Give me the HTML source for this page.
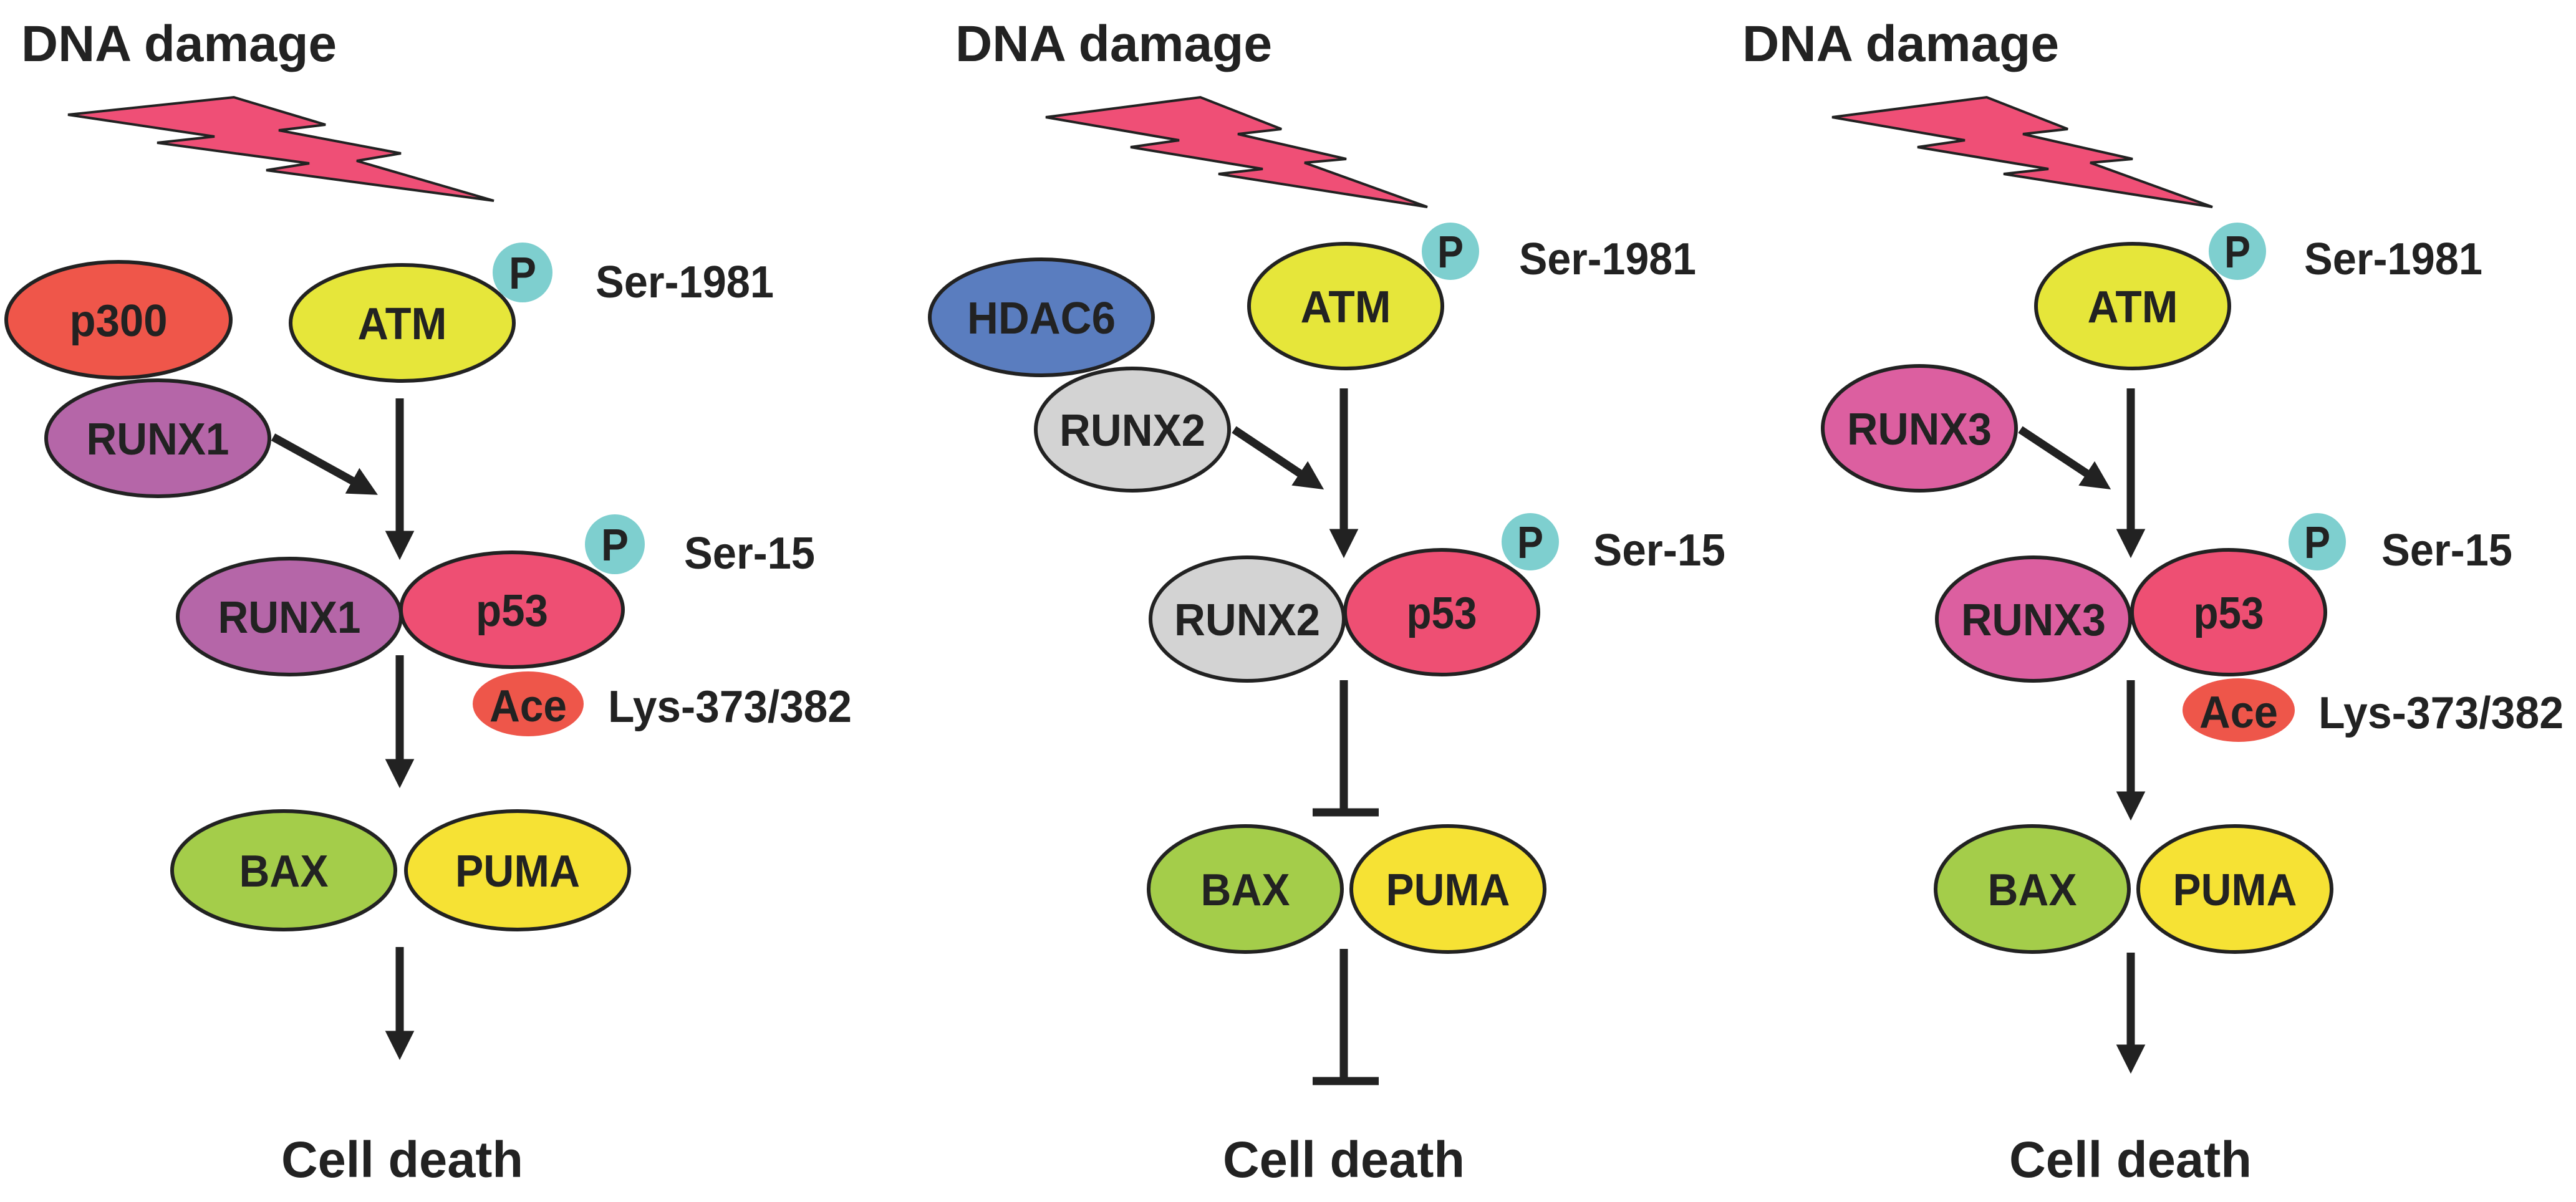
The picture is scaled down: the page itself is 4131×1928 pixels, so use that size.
<!DOCTYPE html>
<html><head><meta charset="utf-8"><style>html,body{margin:0;padding:0;background:#fff}svg{display:block}</style></head>
<body>
<svg width="4131" height="1928" viewBox="0 0 4131 1928" xmlns="http://www.w3.org/2000/svg" font-family="Liberation Sans, Arial, sans-serif" font-weight="bold" fill="#222">
<defs>
<marker id="ah" markerWidth="4" markerHeight="4" refX="2.2" refY="2" orient="auto" markerUnits="strokeWidth"><path d="M0,0.2 L3.6,2 L0,3.8 z" fill="#222"/></marker>
</defs>
<g stroke="#222" stroke-width="6">
<polygon fill="#ef4f76" stroke-width="4" points="109,184 375,156 522,200 447,209 643,246 572,258 792,322 427,273 496,262 252,229 344,219"/>
<polygon fill="#ef4f76" stroke-width="4" points="1677,188 1925,156 2055,207 1985,215 2159,255 2092,261 2289,332 1954,279 2025,271 1813,236 1891,225"/>
<polygon fill="#ef4f76" stroke-width="4" points="2938,188 3186,156 3316,207 3244,215 3420,255 3352,261 3548,332 3213,279 3285,271 3075,236 3151,225"/>

<ellipse cx="190" cy="513" rx="180" ry="93" fill="#ef564a"/>
<ellipse cx="253" cy="703" rx="179" ry="93" fill="#b566a8"/>
<ellipse cx="645" cy="518" rx="179" ry="93" fill="#e6e63a"/>
<circle cx="838" cy="437" r="48" fill="#7ecfcf" stroke="none"/>
<ellipse cx="464" cy="989" rx="179" ry="93" fill="#b566a8"/>
<ellipse cx="821" cy="978" rx="178" ry="92" fill="#ee4f73"/>
<circle cx="986" cy="873" r="48" fill="#7ecfcf" stroke="none"/>
<ellipse cx="847" cy="1129" rx="89" ry="52" fill="#ee564a" stroke="none"/>
<ellipse cx="455" cy="1396" rx="179" ry="95" fill="#a4cd4a"/>
<ellipse cx="830" cy="1396" rx="179" ry="95" fill="#f6e234"/>

<ellipse cx="1670" cy="509" rx="179" ry="93" fill="#5a7dbf"/>
<ellipse cx="1816" cy="689" rx="155" ry="98" fill="#d3d3d3"/>
<ellipse cx="2158" cy="491" rx="155" ry="100" fill="#e6e63a"/>
<circle cx="2326" cy="403" r="46" fill="#7ecfcf" stroke="none"/>
<ellipse cx="2000" cy="993" rx="155" ry="99" fill="#d3d3d3"/>
<ellipse cx="2312" cy="982" rx="155" ry="100" fill="#ee4f73"/>
<circle cx="2454" cy="869" r="46" fill="#7ecfcf" stroke="none"/>
<ellipse cx="1997" cy="1426" rx="155" ry="101" fill="#a4cd4a"/>
<ellipse cx="2322" cy="1426" rx="155" ry="101" fill="#f6e234"/>

<ellipse cx="3078" cy="687" rx="155" ry="100" fill="#dc5fa0"/>
<ellipse cx="3420" cy="491" rx="155" ry="100" fill="#e6e63a"/>
<circle cx="3588" cy="403" r="46" fill="#7ecfcf" stroke="none"/>
<ellipse cx="3261" cy="993" rx="155" ry="99" fill="#dc5fa0"/>
<ellipse cx="3574" cy="982" rx="155" ry="100" fill="#ee4f73"/>
<circle cx="3716" cy="869" r="46" fill="#7ecfcf" stroke="none"/>
<ellipse cx="3590" cy="1139" rx="90" ry="51" fill="#ee564a" stroke="none"/>
<ellipse cx="3259" cy="1426" rx="155" ry="101" fill="#a4cd4a"/>
<ellipse cx="3584" cy="1426" rx="155" ry="101" fill="#f6e234"/>
</g>

<g stroke="#222" stroke-width="13" fill="none">
<line x1="438" y1="701" x2="590" y2="785" marker-end="url(#ah)"/>
<line x1="641" y1="639" x2="641" y2="880" marker-end="url(#ah)"/>
<line x1="641" y1="1051" x2="641" y2="1246" marker-end="url(#ah)"/>
<line x1="641" y1="1519" x2="641" y2="1682" marker-end="url(#ah)"/>

<line x1="1979" y1="689" x2="2108" y2="775" marker-end="url(#ah)"/>
<line x1="2155" y1="623" x2="2155" y2="877" marker-end="url(#ah)"/>
<line x1="2155" y1="1091" x2="2155" y2="1303"/>
<line x1="2105" y1="1303" x2="2211" y2="1303"/>
<line x1="2155" y1="1522" x2="2155" y2="1734"/>
<line x1="2105" y1="1734" x2="2211" y2="1734"/>

<line x1="3240" y1="689" x2="3370" y2="775" marker-end="url(#ah)"/>
<line x1="3417" y1="623" x2="3417" y2="877" marker-end="url(#ah)"/>
<line x1="3417" y1="1091" x2="3417" y2="1298" marker-end="url(#ah)"/>
<line x1="3417" y1="1528" x2="3417" y2="1704" marker-end="url(#ah)"/>
</g>

<g font-size="82">
<text x="34" y="98" textLength="506" lengthAdjust="spacingAndGlyphs">DNA damage</text>
<text x="1532" y="98" textLength="508" lengthAdjust="spacingAndGlyphs">DNA damage</text>
<text x="2794" y="98" textLength="508" lengthAdjust="spacingAndGlyphs">DNA damage</text>
<text x="451" y="1888" textLength="388" lengthAdjust="spacingAndGlyphs">Cell death</text>
<text x="1961" y="1888" textLength="388" lengthAdjust="spacingAndGlyphs">Cell death</text>
<text x="3222" y="1888" textLength="389" lengthAdjust="spacingAndGlyphs">Cell death</text>
</g>
<g font-size="72" text-anchor="middle">
<text x="190" y="539" textLength="157" lengthAdjust="spacingAndGlyphs">p300</text>
<text x="253" y="729" textLength="229" lengthAdjust="spacingAndGlyphs">RUNX1</text>
<text x="645" y="544" textLength="143" lengthAdjust="spacingAndGlyphs">ATM</text>
<text x="838" y="463" textLength="44" lengthAdjust="spacingAndGlyphs">P</text>
<text x="464" y="1015" textLength="229" lengthAdjust="spacingAndGlyphs">RUNX1</text>
<text x="821" y="1004" textLength="116" lengthAdjust="spacingAndGlyphs">p53</text>
<text x="986" y="899" textLength="44" lengthAdjust="spacingAndGlyphs">P</text>
<text x="847" y="1157" textLength="124" lengthAdjust="spacingAndGlyphs">Ace</text>
<text x="455" y="1422" textLength="143" lengthAdjust="spacingAndGlyphs">BAX</text>
<text x="830" y="1422" textLength="200" lengthAdjust="spacingAndGlyphs">PUMA</text>

<text x="1670" y="535" textLength="238" lengthAdjust="spacingAndGlyphs">HDAC6</text>
<text x="1816" y="715" textLength="234" lengthAdjust="spacingAndGlyphs">RUNX2</text>
<text x="2158" y="517" textLength="145" lengthAdjust="spacingAndGlyphs">ATM</text>
<text x="2326" y="429" textLength="42" lengthAdjust="spacingAndGlyphs">P</text>
<text x="2000" y="1019" textLength="234" lengthAdjust="spacingAndGlyphs">RUNX2</text>
<text x="2312" y="1008" textLength="113" lengthAdjust="spacingAndGlyphs">p53</text>
<text x="2454" y="895" textLength="42" lengthAdjust="spacingAndGlyphs">P</text>
<text x="1997" y="1452" textLength="143" lengthAdjust="spacingAndGlyphs">BAX</text>
<text x="2322" y="1452" textLength="199" lengthAdjust="spacingAndGlyphs">PUMA</text>

<text x="3078" y="713" textLength="232" lengthAdjust="spacingAndGlyphs">RUNX3</text>
<text x="3420" y="517" textLength="145" lengthAdjust="spacingAndGlyphs">ATM</text>
<text x="3588" y="429" textLength="42" lengthAdjust="spacingAndGlyphs">P</text>
<text x="3261" y="1019" textLength="232" lengthAdjust="spacingAndGlyphs">RUNX3</text>
<text x="3574" y="1008" textLength="113" lengthAdjust="spacingAndGlyphs">p53</text>
<text x="3716" y="895" textLength="42" lengthAdjust="spacingAndGlyphs">P</text>
<text x="3590" y="1167" textLength="126" lengthAdjust="spacingAndGlyphs">Ace</text>
<text x="3259" y="1452" textLength="143" lengthAdjust="spacingAndGlyphs">BAX</text>
<text x="3584" y="1452" textLength="199" lengthAdjust="spacingAndGlyphs">PUMA</text>
</g>
<g font-size="72">
<text x="955" y="477" textLength="286" lengthAdjust="spacingAndGlyphs">Ser-1981</text>
<text x="1097" y="912" textLength="210" lengthAdjust="spacingAndGlyphs">Ser-15</text>
<text x="975" y="1158" textLength="391" lengthAdjust="spacingAndGlyphs">Lys-373/382</text>
<text x="2436" y="440" textLength="284" lengthAdjust="spacingAndGlyphs">Ser-1981</text>
<text x="2555" y="907" textLength="212" lengthAdjust="spacingAndGlyphs">Ser-15</text>
<text x="3695" y="440" textLength="286" lengthAdjust="spacingAndGlyphs">Ser-1981</text>
<text x="3819" y="907" textLength="210" lengthAdjust="spacingAndGlyphs">Ser-15</text>
<text x="3718" y="1168" textLength="393" lengthAdjust="spacingAndGlyphs">Lys-373/382</text>
</g>
</svg>
</body></html>
